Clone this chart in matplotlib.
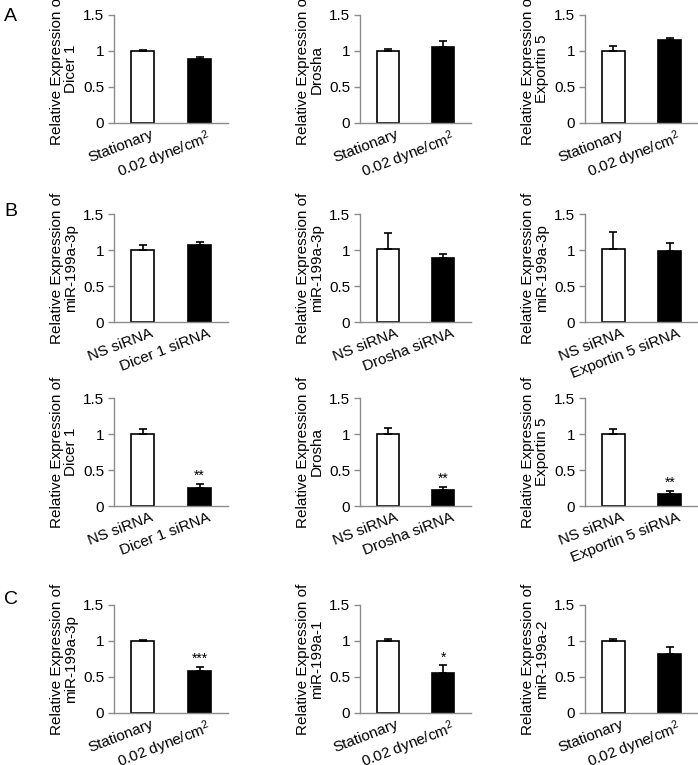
import numpy as np
import matplotlib.pyplot as plt

plt.rcParams['font.family'] = ['Liberation Sans', 'DejaVu Sans']
plt.rcParams['mathtext.fontset'] = 'custom'
plt.rcParams['mathtext.rm'] = 'Liberation Sans'
plt.rcParams['mathtext.it'] = 'Liberation Sans:italic'
plt.rcParams['font.size'] = 10

# group names
shear_groups = ['Stationary', '0.02 dyne/cm$^2$']
dicer_groups = ['NS siRNA', 'Dicer 1 siRNA']
drosha_groups = ['NS siRNA', 'Drosha siRNA']
exportin_groups = ['NS siRNA', 'Exportin 5 siRNA']

# A: processing enzymes under shear
dicer_shear = [1.00, 0.89]
dicer_shear_err = [0.01, 0.025]
drosha_shear = [1.00, 1.06]
drosha_shear_err = [0.03, 0.08]
exportin_shear = [1.00, 1.15]
exportin_shear_err = [0.07, 0.035]

# B top: miR-199a-3p after knockdown
mir_dicer_kd = [1.00, 1.07]
mir_dicer_kd_err = [0.07, 0.04]
mir_drosha_kd = [1.02, 0.89]
mir_drosha_kd_err = [0.21, 0.05]
mir_exportin_kd = [1.02, 0.98]
mir_exportin_kd_err = [0.23, 0.12]

# B bottom: knockdown efficiency
dicer_kd = [1.00, 0.25]
dicer_kd_err = [0.065, 0.06]
drosha_kd = [1.00, 0.22]
drosha_kd_err = [0.09, 0.045]
exportin_kd = [1.00, 0.17]
exportin_kd_err = [0.07, 0.04]

# C: miR-199a forms under shear
mir3p_shear = [1.00, 0.59]
mir3p_shear_err = [0.02, 0.05]
mir1_shear = [1.00, 0.55]
mir1_shear_err = [0.03, 0.11]
mir2_shear = [1.00, 0.82]
mir2_shear_err = [0.03, 0.09]

panels = [
    [(shear_groups, dicer_shear, dicer_shear_err, 'Dicer 1', ''),
     (shear_groups, drosha_shear, drosha_shear_err, 'Drosha', ''),
     (shear_groups, exportin_shear, exportin_shear_err, 'Exportin 5', '')],
    [(dicer_groups, mir_dicer_kd, mir_dicer_kd_err, 'miR-199a-3p', ''),
     (drosha_groups, mir_drosha_kd, mir_drosha_kd_err, 'miR-199a-3p', ''),
     (exportin_groups, mir_exportin_kd, mir_exportin_kd_err, 'miR-199a-3p', '')],
    [(dicer_groups, dicer_kd, dicer_kd_err, 'Dicer 1', '**'),
     (drosha_groups, drosha_kd, drosha_kd_err, 'Drosha', '**'),
     (exportin_groups, exportin_kd, exportin_kd_err, 'Exportin 5', '**')],
    [(shear_groups, mir3p_shear, mir3p_shear_err, 'miR-199a-3p', '***'),
     (shear_groups, mir1_shear, mir1_shear_err, 'miR-199a-1', '*'),
     (shear_groups, mir2_shear, mir2_shear_err, 'miR-199a-2', '')],
]

W, H = 698, 765
fig = plt.figure(figsize=(W / 100, H / 100), dpi=100)

col_left = [114, 360, 585]
col_width = [114, 111, 113]
row_bottom = [123, 322, 506, 713]
ax_h = 108
spine_gray = '#8c8c8c'
label_offset = 0.13  # category labels sit a bit right of the bar centre

for r, row in enumerate(panels):
    for c, (groups, means, errs, target, star) in enumerate(row):
        ax = fig.add_axes([col_left[c] / W, 1 - row_bottom[r] / H,
                           col_width[c] / W, ax_h / H])
        x = np.arange(len(groups))
        ax.bar(x, means, width=0.4, color=['white', 'black'],
               edgecolor='black', linewidth=1.2, zorder=2)
        ax.errorbar(x, means, yerr=[np.zeros(len(errs)), errs], fmt='none',
                    ecolor='black', elinewidth=1.2, capsize=3, capthick=1.2,
                    zorder=3)
        if star:
            ax.text(x[1], means[1] + errs[1] + 0.01, star, ha='center',
                    va='bottom', fontsize=10)
        ax.set_xlim(-0.5, 1.5)
        ax.set_ylim(0, 1.5)
        ax.set_yticks([0, 0.5, 1, 1.5])
        ax.set_yticklabels(['0', '0.5', '1', '1.5'])
        ax.set_xticks(x + label_offset)
        ax.set_xticklabels(groups, rotation=21, ha='right',
                           rotation_mode='anchor')
        ax.tick_params(axis='x', length=0, pad=3, labelsize=11)
        ax.tick_params(axis='y', length=4, color=spine_gray, width=1,
                       labelsize=11, pad=3)
        for side in ['top', 'right']:
            ax.spines[side].set_visible(False)
        for side in ['left', 'bottom']:
            ax.spines[side].set_color(spine_gray)
            ax.spines[side].set_linewidth(1)
        ax.set_ylabel('Relative Expression of\n' + target, fontsize=11,
                      labelpad=4, linespacing=1.0)

for label, y in [('A', 8), ('B', 203), ('C', 591)]:
    fig.text(4 / W, 1 - y / H, label, fontsize=14, va='top', ha='left')

fig.savefig('out.png', dpi=100)
